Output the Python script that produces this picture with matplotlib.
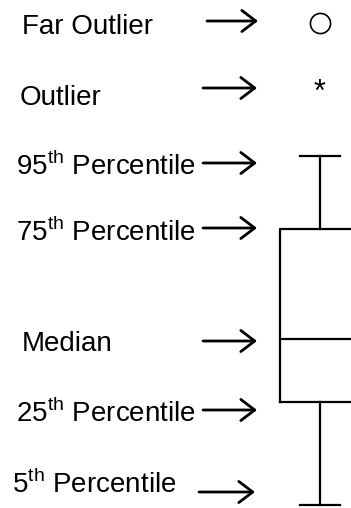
import matplotlib
matplotlib.use("Agg")
import matplotlib.pyplot as plt

# Box plot legend: what each part of the box stands for
labels = ["Far Outlier", "Outlier",
          "95$^{\\mathregular{th}}$ Percentile",
          "75$^{\\mathregular{th}}$ Percentile",
          "Median",
          "25$^{\\mathregular{th}}$ Percentile",
          "5$^{\\mathregular{th}}$ Percentile"]
# values in drawing units (0 = bottom of the picture)
p5, p25, median, p75, p95 = 3, 106, 169, 279, 352
outlier = [417]
far_outlier = [485]

# layout of the label column and arrows
label_x = [22, 20, 16, 16, 22, 16, 12]
label_y = [474, 403, 333, 267, 157, 86, 15]
arrow_y = [487, 420, 345, 280, 167, 98, 16]
arrow_x0 = [207, 203, 203, 203, 203, 203, 199]
arrow_x1 = [258, 257, 257, 257, 257, 257, 255]


def main():
    plt.rcParams['font.family'] = ['Liberation Sans', 'DejaVu Sans']
    fig = plt.figure(figsize=(3.51, 5.08), dpi=100)
    ax = fig.add_axes([0, 0, 1, 1])
    ax.set_xlim(0, 351)
    ax.set_ylim(0, 508)
    ax.axis('off')

    stats = [{'whislo': p5, 'q1': p25, 'med': median, 'q3': p75,
              'whishi': p95, 'fliers': []}]
    line = dict(color='black', linewidth=1.6)
    ax.bxp(stats, positions=[320], widths=80, capwidths=40,
           showfliers=False, boxprops=line, whiskerprops=line,
           capprops=line, medianprops=line)
    ax.plot([320] * len(far_outlier), far_outlier, 'o', ms=14.5,
            mfc='none', mec='black', mew=1.2, clip_on=False)
    for v in outlier:
        ax.text(320, v - 2, '*', ha='center', va='center', fontsize=22)

    for i, lab in enumerate(labels):
        ax.text(label_x[i], label_y[i], lab, fontsize=20,
                ha='left', va='baseline')
        ax.annotate('', xy=(arrow_x1[i], arrow_y[i]),
                    xytext=(arrow_x0[i], arrow_y[i]),
                    arrowprops=dict(arrowstyle='->,head_length=0.5,head_width=0.38',
                                    mutation_scale=20, lw=2, color='black',
                                    shrinkA=0, shrinkB=0))

    fig.savefig('out.png', dpi=100)


if __name__ == '__main__':
    main()
